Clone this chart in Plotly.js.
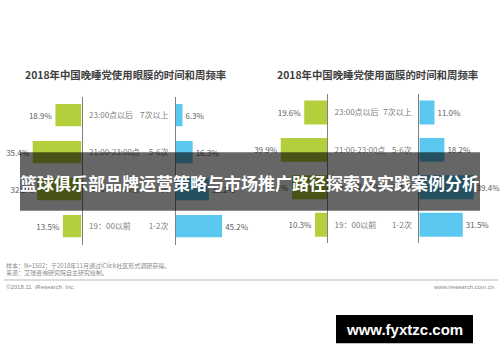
<!DOCTYPE html>
<html>
<head>
<meta charset="utf-8">
<script src="https://cdn.plot.ly/plotly-3.0.1.min.js"></script>
<style>html,body{margin:0;padding:0;background:#fff;}#chart{width:500px;height:362px;}</style>
</head>
<body>
<div id="chart"></div>
<script>
// ---- data ----
const timeCats = ["23:00点以后", "21:00-23:00点", "19:00-21:00点", "19：00以前"];
const freqCats = ["7次以上", "5-6次", "3-4次", "1-2次"];
const eyeTime = [18.9, 35.4, 32.2, 13.5];
const eyeFreq = [6.3, 16.3, 32.2, 45.2];
const faceTime = [19.6, 39.9, 30.2, 10.3];
const faceFreq = [11.0, 18.2, 39.4, 31.5];
const titleEye = "2018年中国晚睡党使用眼膜的时间和周频率";
const titleFace = "2018年中国晚睡党使用面膜的时间和周频率";
const bannerText = "篮球俱乐部品牌运营策略与市场推广路径探索及实践案例分析";
const noteLines = ["样本：N=1502；于2018年11月通过iClick社区形式调研获得。", "来源：艾瑞咨询研究院自主研究绘制。"];
const copyright = "©2018.11  iResearch  Inc.";
const site = "www.iresearch.com.cn";
const watermark = "www.fyxtzc.com";

const GREEN = "#b3cf3c", BLUE = "#5bc8f0";
const FONT = "'Noto Sans CJK SC', 'Noto Sans', sans-serif";
const W = 500, H = 362;
const px = v => v / W, py = v => 1 - v / H;
const fmt = a => a.map(v => v.toFixed(1) + "%");

function barTrace(vals, cats, color, xa, ya, width) {
  return {
    type: "bar", orientation: "h", x: vals, y: cats, xaxis: xa, yaxis: ya,
    marker: {color: color}, width: width,
    text: fmt(vals), textposition: "outside", cliponaxis: false, constraintext: "none",
    textfont: {family: FONT, size: 8, color: "#606060"}, hoverinfo: "none"
  };
}

const data = [
  barTrace(eyeTime, timeCats, GREEN, "x", "y", 0.6),
  barTrace(eyeFreq, freqCats, BLUE, "x2", "y2", 0.6),
  barTrace(faceTime, timeCats, GREEN, "x3", "y3", 0.64),
  barTrace(faceFreq, freqCats, BLUE, "x4", "y4", 0.64)
];

const hidX = (dom, rng) => ({domain: dom, range: rng, visible: false, fixedrange: true});
const yAx = (anchor, side, dom, cats) => ({
  anchor: anchor, side: side, domain: dom, type: "category", categoryarray: cats,
  range: [3.5, -0.5], showline: true, linecolor: "#808080", linewidth: 1,
  showgrid: false, zeroline: false, ticks: "outside", ticklen: 5, tickcolor: "rgba(0,0,0,0)",
  tickfont: {family: FONT, size: 8, color: "#7a7a7a"}, fixedrange: true
});

const domL = [py(244.7), py(96.7)];
const domR = [py(243.4), py(93.8)];

const layout = {
  width: W, height: H, margin: {l: 0, r: 0, t: 0, b: 0},
  paper_bgcolor: "#fff", plot_bgcolor: "rgba(0,0,0,0)", showlegend: false,
  font: {family: FONT},
  xaxis: hidX([px(20), px(81.5)], [44.6, 0]),
  xaxis2: hidX([px(176), px(240)], [0, 62.7]),
  xaxis3: hidX([px(270), px(327)], [49.14, 0]),
  xaxis4: hidX([px(419.3), px(480)], [0, 43.99]),
  yaxis: yAx("x", "right", domL, timeCats),
  yaxis2: yAx("x2", "left", domL, freqCats),
  yaxis3: yAx("x3", "right", domR, timeCats),
  yaxis4: yAx("x4", "left", domR, freqCats),
  shapes: [
    {type: "rect", xref: "paper", yref: "paper", x0: px(20), x1: px(480), y0: py(210.7), y1: py(152.3),
     fillcolor: "rgba(0,0,0,0.6)", line: {width: 0}, layer: "above"},
    {type: "line", xref: "paper", yref: "paper", x0: px(4), x1: px(498), y0: py(280), y1: py(280),
     line: {color: "#cfcfcf", width: 1.5}, layer: "above"},
    {type: "rect", xref: "paper", yref: "paper", x0: px(336), x1: px(473), y0: py(343.3), y1: py(315),
     fillcolor: "#000", line: {width: 0}, layer: "above"}
  ],
  annotations: [
    {text: "<b>" + titleEye + "</b>", xref: "paper", yref: "paper", x: px(125), y: py(75), showarrow: false,
     font: {family: FONT, size: 10.4, color: "#404040"}, xanchor: "center", yanchor: "middle"},
    {text: "<b>" + titleFace + "</b>", xref: "paper", yref: "paper", x: px(377.5), y: py(75), showarrow: false,
     font: {family: FONT, size: 10.4, color: "#404040"}, xanchor: "center", yanchor: "middle"},
    {text: "<b>" + bannerText + "</b>", xref: "paper", yref: "paper", x: px(249), y: py(182), showarrow: false,
     font: {family: FONT, size: 17, color: "#ffffff"}, xanchor: "center", yanchor: "middle"},
    {text: noteLines[0], xref: "paper", yref: "paper", x: px(4), y: py(265.5), showarrow: false,
     font: {family: FONT, size: 6, color: "#8a8a8a"}, xanchor: "left", yanchor: "middle"},
    {text: noteLines[1], xref: "paper", yref: "paper", x: px(4), y: py(272.8), showarrow: false,
     font: {family: FONT, size: 6, color: "#8a8a8a"}, xanchor: "left", yanchor: "middle"},
    {text: copyright, xref: "paper", yref: "paper", x: px(4), y: py(287), showarrow: false,
     font: {family: "'Liberation Sans', Arial, sans-serif", size: 6, color: "#8a8a8a"}, xanchor: "left", yanchor: "middle"},
    {text: site, xref: "paper", yref: "paper", x: px(496), y: py(287), showarrow: false,
     font: {family: "'Liberation Sans', Arial, sans-serif", size: 6, color: "#8a8a8a"}, xanchor: "right", yanchor: "middle"},
    {text: "<b>" + watermark + "</b>", xref: "paper", yref: "paper", x: px(404.5), y: py(329.5), showarrow: false,
     font: {family: "'Liberation Sans', Arial, sans-serif", size: 15, color: "#ffffff"}, xanchor: "center", yanchor: "middle"}
  ]
};

Plotly.newPlot("chart", data, layout, {staticPlot: true, displayModeBar: false});
</script>
</body>
</html>
